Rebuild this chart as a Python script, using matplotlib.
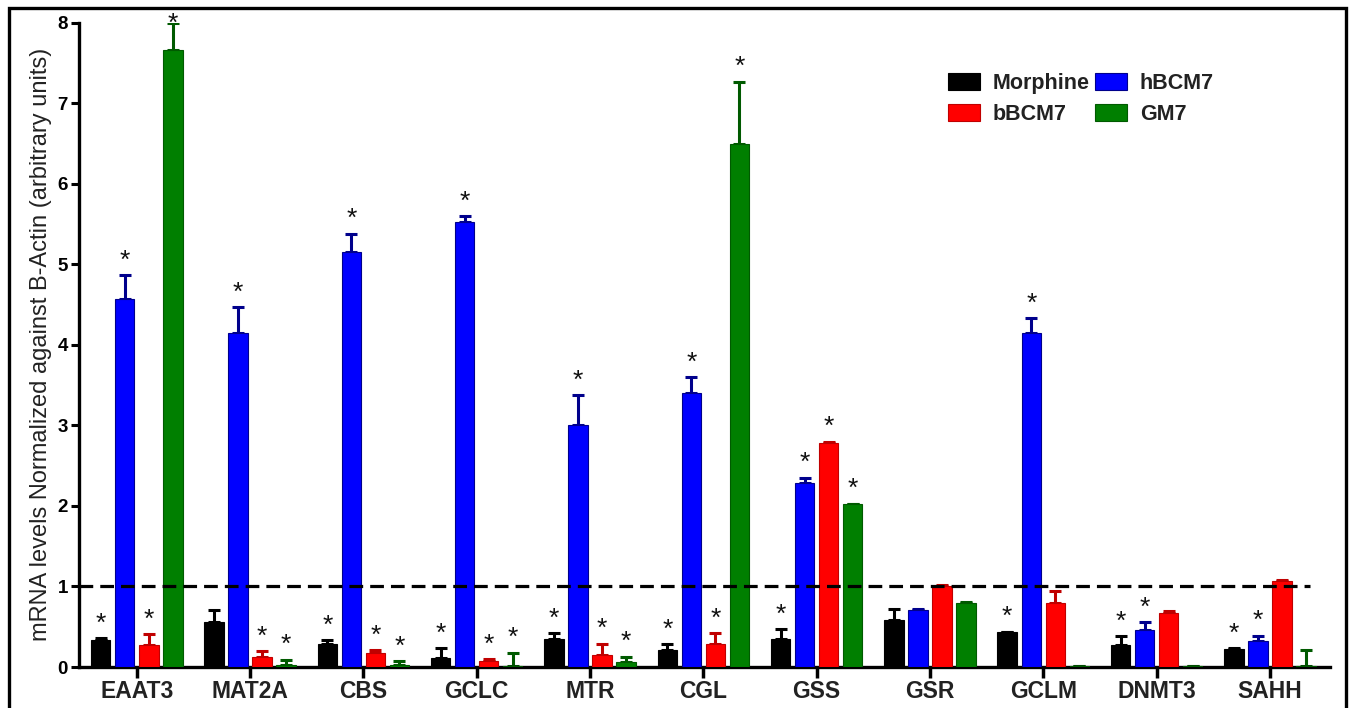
import numpy as np
import matplotlib.pyplot as plt
from matplotlib.patches import Rectangle

genes = ['EAAT3', 'MAT2A', 'CBS', 'GCLC', 'MTR', 'CGL', 'GSS', 'GSR', 'GCLM', 'DNMT3', 'SAHH']
groups = ['Morphine', 'hBCM7', 'bBCM7', 'GM7']
colors = ['#000000', '#0000ff', '#ff0000', '#007f00']
edges = ['#000000', '#00008c', '#c00000', '#005a00']

morphine = [0.34, 0.56, 0.28, 0.11, 0.35, 0.21, 0.35, 0.58, 0.43, 0.27, 0.22]
morphine_err = [0.02, 0.15, 0.05, 0.12, 0.07, 0.07, 0.12, 0.14, 0.01, 0.11, 0.01]
hbcm7 = [4.57, 4.15, 5.15, 5.52, 3.00, 3.40, 2.29, 0.71, 4.15, 0.46, 0.32]
hbcm7_err = [0.30, 0.32, 0.23, 0.08, 0.38, 0.20, 0.06, 0.01, 0.18, 0.10, 0.07]
bbcm7 = [0.27, 0.13, 0.18, 0.08, 0.15, 0.29, 2.78, 1.01, 0.79, 0.67, 1.07]
bbcm7_err = [0.14, 0.07, 0.03, 0.02, 0.14, 0.13, 0.02, 0.01, 0.15, 0.02, 0.01]
gm7 = [7.66, 0.03, 0.02, 0.01, 0.06, 6.50, 2.02, 0.80, 0.01, 0.01, 0.01]
gm7_err = [0.34, 0.06, 0.05, 0.17, 0.07, 0.77, 0.01, 0.01, 0.0, 0.0, 0.20]

# which bars carry an asterisk (order: Morphine, hBCM7, bBCM7, GM7)
stars = [
    [1, 1, 1, 1], [0, 1, 1, 1], [1, 1, 1, 1], [1, 1, 1, 1], [1, 1, 1, 1],
    [1, 1, 1, 1], [1, 1, 1, 1], [0, 0, 0, 0], [1, 1, 0, 0], [1, 1, 0, 0], [1, 1, 0, 0],
]

vals = [morphine, hbcm7, bbcm7, gm7]
errs = [morphine_err, hbcm7_err, bbcm7_err, gm7_err]

plt.rcParams['font.family'] = ['Liberation Sans', 'DejaVu Sans']
fig = plt.figure(figsize=(13.52, 7.08), dpi=100)
ax = fig.add_axes([0.0584, 0.0579, 0.9253, 0.9100])

x = np.arange(len(genes))
pitch = 0.212
width = 0.172
offs = [-1.5, -0.5, 0.5, 1.5]
handles = []
for k in range(4):
    xs = x + offs[k] * pitch
    b = ax.bar(xs, vals[k], width, color=colors[k], edgecolor=edges[k], linewidth=0.8,
               label=groups[k], zorder=3)
    handles.append(b)
    ax.errorbar(xs, vals[k], yerr=[np.zeros(len(genes)), errs[k]], fmt='none',
                ecolor=edges[k], elinewidth=2.2, capsize=4, capthick=2.2, zorder=2)
    for i in range(len(genes)):
        if stars[i][k]:
            ys = min(vals[k][i] + errs[k][i] + 0.03, 7.84)
            ax.text(xs[i], ys, '*', ha='center', va='bottom',
                    fontsize=19, color='#111111', clip_on=False)

ax.axhline(1.0, xmin=0, xmax=0.984, color='black', lw=2.3, ls=(0, (4.3, 2.2)), zorder=4)

ax.set_xlim(-0.51, 10.53)
ax.set_ylim(0, 8)
ax.set_yticks(range(9))
ax.set_xticks(x)
ax.set_xticklabels(genes, fontsize=16.5, fontweight='bold', color='#222222')
for t in ax.get_yticklabels():
    t.set_fontsize(13.5)
    t.set_fontweight('bold')
ax.tick_params(axis='x', length=8, width=2.5, pad=1.5)
ax.tick_params(axis='y', length=6, width=2.2, pad=2)
for s in ['top', 'right']:
    ax.spines[s].set_visible(False)
for s in ['left', 'bottom']:
    ax.spines[s].set_linewidth(2.4)
ax.set_ylabel('mRNA levels Normalized against B-Actin (arbitrary units)', fontsize=17,
              labelpad=4, color='#222222')

leg = ax.legend([handles[0], handles[2], handles[1], handles[3]],
                ['Morphine', 'bBCM7', 'hBCM7', 'GM7'], ncol=2, frameon=False,
                loc='upper left', bbox_to_anchor=(0.679, 0.952),
                handlelength=1.48, handleheight=0.85, columnspacing=0.25,
                handletextpad=0.6, labelspacing=0.45, prop={'weight': 'bold', 'size': 15.5})
for t in leg.get_texts():
    t.set_color('#222222')

# outer frame around the whole picture
fig.patches.append(Rectangle((9 / 1352, -0.01), (1346 - 9) / 1352, 1.01 - 8 / 708,
                             transform=fig.transFigure, fill=False, lw=2.4,
                             edgecolor='black'))

fig.savefig('out.png', dpi=100)
